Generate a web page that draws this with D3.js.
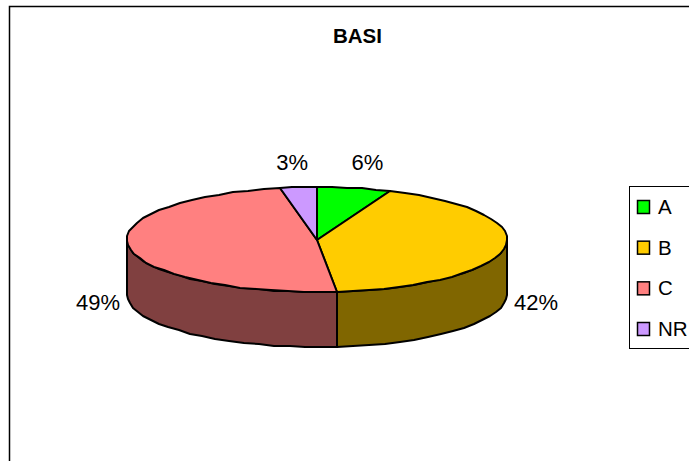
<!DOCTYPE html>
<html>
<head>
<meta charset="utf-8">
<script src="https://cdn.jsdelivr.net/npm/d3@7"></script>
<style>
  html, body { margin: 0; padding: 0; background: #fff; }
  svg { display: block; }
  text { font-family: "Liberation Sans", Arial, sans-serif; fill: #000; }
</style>
</head>
<body>
<svg id="chart"></svg>
<script>
/// data ///
const chartTitle = "BASI";
const categories = ["A", "B", "C", "NR"];
const shares = [6.3, 42, 48.6, 3.1];
const topColours = ["#00ff00", "#ffcc00", "#ff8080", "#cc99ff"];
const sideColours = ["#008000", "#806600", "#804040", "#664d80"];

/// dimensions ///
const width = 689;
const height = 461;
const cx = 317, cy = 239.5, rx = 190, ry = 52.5, depth = 55;
const titleSize = 20.5, labelSize = 22, legendSize = 20.5;

const svg = d3.select("#chart").attr("width", width).attr("height", height);

// plot frame, runs off the right and bottom of the picture
svg.append("path")
  .attr("d", `M${width + 2},6.5 H9.5 V${height + 2}`)
  .attr("fill", "none")
  .attr("stroke", "#000")
  .attr("stroke-width", 1.5);

svg.append("text")
  .attr("x", 357.5)
  .attr("y", 43)
  .attr("text-anchor", "middle")
  .attr("font-size", titleSize)
  .attr("font-weight", "bold")
  .text(chartTitle);

/// pie ///
const pie = d3.pie().sort(null).value(d => d.share);
const slices = pie(categories.map((c, i) => ({ category: c, share: shares[i] })));
const topColour = d3.scaleOrdinal(categories, topColours);
const sideColour = d3.scaleOrdinal(categories, sideColours);

// flattened circle, rounded to whole pixels to get the jagged look of the original
const rim = (a, drop = 0) => [
  Math.round(cx + rx * Math.sin(a)),
  Math.round(cy - ry * Math.cos(a) + drop)
];
const samples = (a0, a1) => {
  const n = Math.max(1, Math.ceil((a1 - a0) / (Math.PI / 36)));
  return d3.range(n + 1).map(i => a0 + (a1 - a0) * i / n);
};
const line = d3.line();

// 1. side walls, only the part of each slice that faces the viewer
const frontStart = Math.PI / 2, frontEnd = 3 * Math.PI / 2;
const walls = slices.filter(d => d.endAngle > frontStart && d.startAngle < frontEnd);
svg.append("g").selectAll("path")
  .data(walls)
  .join("path")
    .attr("d", d => {
      const a = samples(Math.max(d.startAngle, frontStart), Math.min(d.endAngle, frontEnd));
      const upper = a.map(t => rim(t));
      const lower = a.slice().reverse().map(t => rim(t, depth));
      return line(upper.concat(lower)) + "Z";
    })
    .attr("fill", d => sideColour(d.data.category))
    .attr("stroke", "#000")
    .attr("stroke-width", 2)
    .attr("stroke-linejoin", "round");

// 2. top faces
svg.append("g").selectAll("path")
  .data(slices)
  .join("path")
    .attr("d", d => line([[cx, Math.round(cy)]].concat(samples(d.startAngle, d.endAngle).map(t => rim(t)))) + "Z")
    .attr("fill", d => topColour(d.data.category))
    .attr("stroke", "#000")
    .attr("stroke-width", 2)
    .attr("stroke-linejoin", "round");

// 3. percent labels: small slices sit above the pie, big ones beside the wall
svg.append("g").selectAll("text")
  .data(slices)
  .join("text")
    .attr("font-size", labelSize)
    .attr("text-anchor", d => {
      const s = Math.sin((d.startAngle + d.endAngle) / 2);
      return Math.abs(s) < 0.5 ? "middle" : s > 0 ? "start" : "end";
    })
    .attr("x", d => {
      const s = Math.sin((d.startAngle + d.endAngle) / 2);
      return Math.abs(s) < 0.5 ? cx + rx * 1.35 * s : cx + (rx + 7) * Math.sign(s);
    })
    .attr("y", d => {
      const mid = (d.startAngle + d.endAngle) / 2;
      return Math.abs(Math.sin(mid)) < 0.5 ? cy - ry - 17 : cy - ry * Math.cos(mid) + 63;
    })
    .text(d => Math.round(d.data.share) + "%");

/// legend ///
const legend = svg.append("g");
legend.append("rect")
  .attr("x", 629.5)
  .attr("y", 186.5)
  .attr("width", width)
  .attr("height", 162)
  .attr("fill", "#fff")
  .attr("stroke", "#000")
  .attr("stroke-width", 1);

const legendY = d3.scalePoint().domain(categories).range([207, 329]);
const legendRow = legend.selectAll("g")
  .data(categories)
  .join("g")
    .attr("transform", d => `translate(0, ${legendY(d)})`);
legendRow.append("rect")
  .attr("x", 637.5)
  .attr("y", -6.5)
  .attr("width", 12)
  .attr("height", 13)
  .attr("fill", d => topColour(d))
  .attr("stroke", "#000")
  .attr("stroke-width", 1.5);
legendRow.append("text")
  .attr("x", 658)
  .attr("y", 7)
  .attr("font-size", legendSize)
  .text(d => d);
</script>
</body>
</html>
